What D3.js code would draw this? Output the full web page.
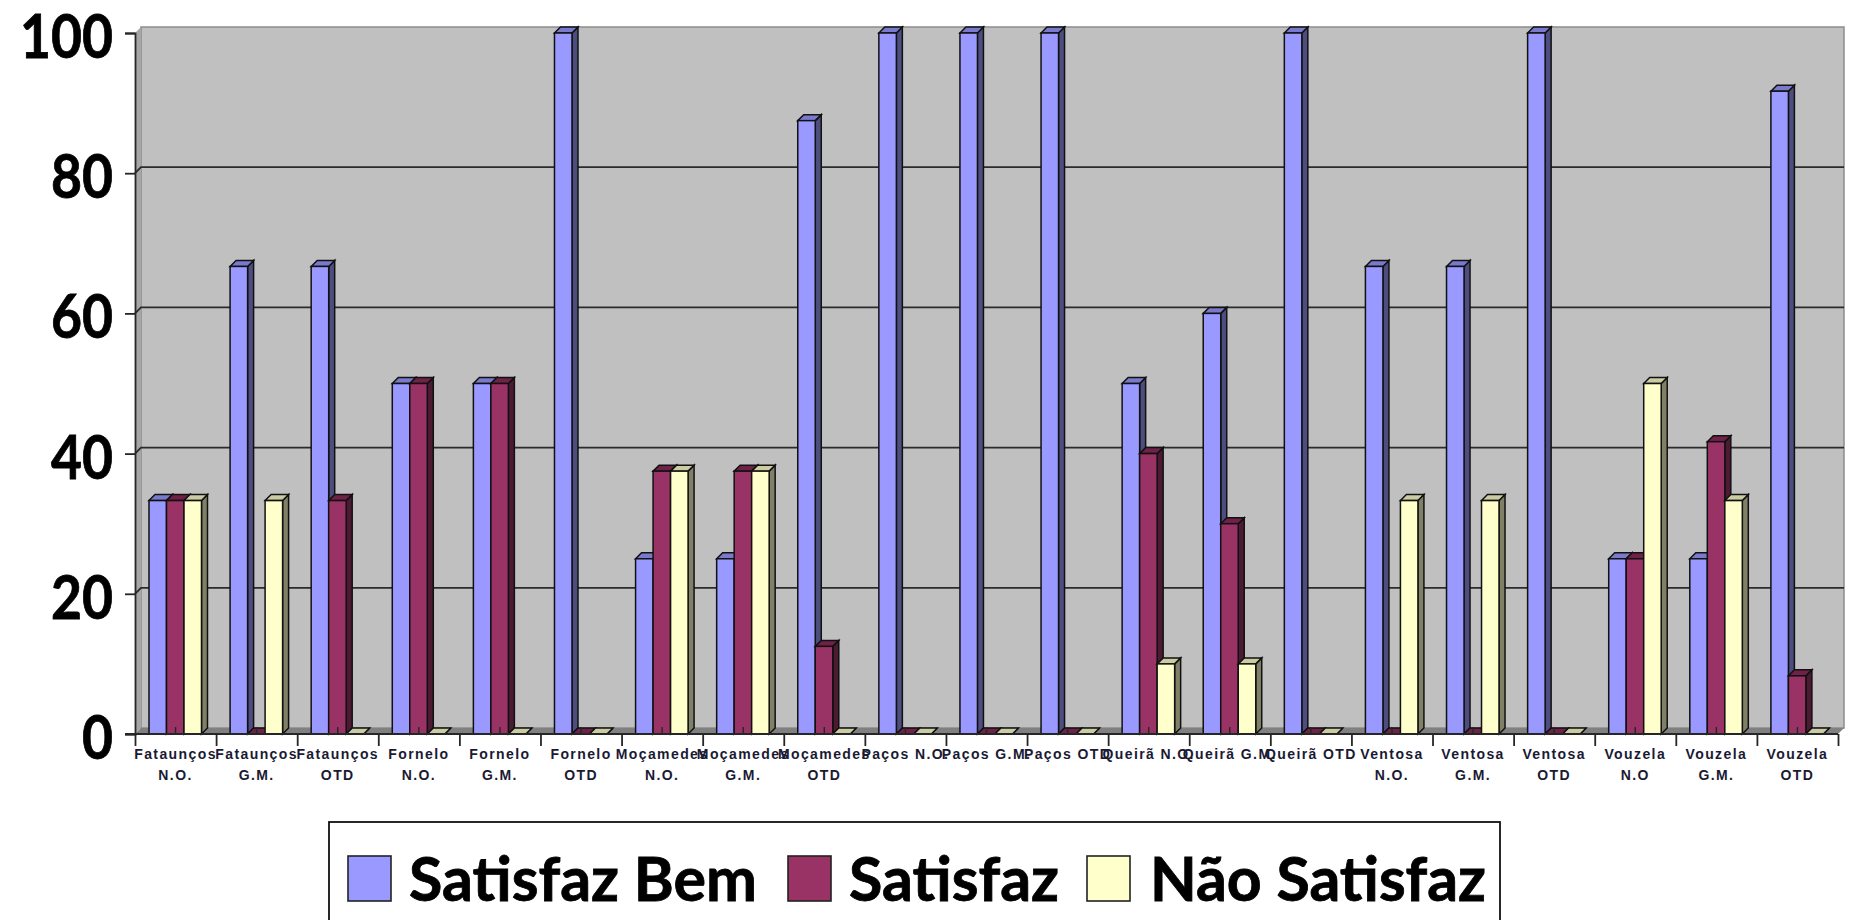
<!DOCTYPE html>
<html lang="en">
<head>
<meta charset="UTF-8">
<title>Satisfaz</title>
<style>
*{margin:0;padding:0;}
body{background:#fff;overflow:hidden;}
</style>
</head>
<body>
<div id="container"></div>
<script src="https://d3js.org/d3.v7.min.js"></script>
<script>
var categories = [
  "Fataunços\nN.O.", "Fataunços\nG.M.", "Fataunços\nOTD",
  "Fornelo\nN.O.", "Fornelo\nG.M.", "Fornelo\nOTD",
  "Moçamedes\nN.O.", "Moçamedes\nG.M.", "Moçamedes\nOTD",
  "Paços N.O.", "Paços G.M.", "Paços OTD",
  "Queirã N.O.", "Queirã G.M.", "Queirã OTD",
  "Ventosa\nN.O.", "Ventosa\nG.M.", "Ventosa\nOTD",
  "Vouzela\nN.O", "Vouzela\nG.M.", "Vouzela\nOTD"
]
var seriesNames = ["Satisfaz Bem", "Satisfaz", "Não Satisfaz"]
var satisfazBem = [33.3,66.7,66.7,50,50,100,25,25,87.5,100,100,100,50,60,100,66.7,66.7,100,25,25,91.7]
var satisfaz = [33.3,0,33.3,50,50,0,37.5,37.5,12.5,0,0,0,40,30,0,0,0,0,25,41.7,8.3]
var naoSatisfaz = [33.3,33.3,0,0,0,0,37.5,37.5,0,0,0,0,10,10,0,33.3,33.3,0,50,33.3,0]
var yTicks = [0,20,40,60,80,100]

var seriesValues = [satisfazBem, satisfaz, naoSatisfaz]
var front = ["#9999ff", "#993366", "#ffffcc"]
var side = ["#4d4d80", "#4d1a33", "#808066"]
var top3d = ["#7a7acc", "#6f2148", "#cccca3"]

var W = 1855, H = 920
var x0 = 135, x1 = 1838, y0 = 734, y100 = 33
var dx = 6, dy = 6

var svg = d3.select('#container').append('svg').attr('width', W).attr('height', H)
  .style('display', 'block')

var x = d3.scaleBand().domain(d3.range(categories.length)).range([x0, x1])
var xEdge = d3.scaleLinear().domain([0, categories.length]).range([x0, x1])
var y = d3.scaleLinear().domain([0, 100]).range([y0, y100])
var barW = 17.5
var barOffset = 14

// back wall, side wall and floor
svg.append('rect').attr('x', x0 + dx).attr('y', y(100) - dy)
  .attr('width', x1 - x0).attr('height', y0 - y(100))
  .attr('fill', '#c0c0c0').attr('stroke', '#8c8c8c').attr('stroke-width', 1.5)
svg.append('polygon')
  .attr('points', [[x0, y(100)], [x0 + dx, y(100) - dy], [x0 + dx, y0 - dy], [x0, y0]].join(' '))
  .attr('fill', '#a6a6a6')
svg.append('polygon')
  .attr('points', [[x0, y0], [x0 + dx, y0 - dy], [x1 + dx, y0 - dy], [x1, y0]].join(' '))
  .attr('fill', '#808080')

// gridlines
svg.selectAll('path.grid').data(yTicks.filter(function (d) {return d > 0 && d < 100})).enter()
  .append('path').attr('class', 'grid')
  .attr('d', function (d) {return `M${x0},${y(d)}L${x0 + dx},${y(d) - dy}L${x1 + dx},${y(d) - dy}`})
  .attr('fill', 'none').attr('stroke', '#2b2b2b').attr('stroke-width', 1.8)

// axes
var axisY = svg.append('g').attr('transform', `translate(${x0},0)`)
  .call(d3.axisLeft(y).tickValues(yTicks).tickSize(10).tickPadding(12))
axisY.selectAll('path,line').attr('stroke', '#262626').attr('stroke-width', 1.8)
axisY.selectAll('text').attr('font-family', 'Lato').attr('font-weight', 700)
  .attr('font-size', 62).attr('fill', '#000').attr('stroke', '#000').attr('stroke-width', 0.8)
  .attr('dy', 24.5)
  .attr('lengthAdjust', 'spacingAndGlyphs')
  .attr('textLength', function (d) {return String(d).length * 31})

// bars
var bars = svg.selectAll('g.cat').data(categories).enter().append('g').attr('class', 'cat')
  .attr('transform', function (d, i) {return `translate(${x(i) + barOffset},0)`})

seriesNames.forEach(function (name, s) {
  var g = bars.append('g')
  var bx = s * barW
  g.append('polygon')
    .attr('points', function (d, i) {
      var yy = y(seriesValues[s][i])
      return [[bx + barW, yy], [bx + barW + dx, yy - dy], [bx + barW + dx, y0 - dy], [bx + barW, y0]].join(' ')
    })
    .attr('fill', side[s]).attr('stroke', '#111').attr('stroke-width', 1.5)
  g.append('polygon')
    .attr('points', function (d, i) {
      var yy = y(seriesValues[s][i])
      return [[bx, yy], [bx + dx, yy - dy], [bx + barW + dx, yy - dy], [bx + barW, yy]].join(' ')
    })
    .attr('fill', top3d[s]).attr('stroke', '#111').attr('stroke-width', 1.5)
  g.append('rect')
    .attr('x', bx)
    .attr('y', function (d, i) {return y(seriesValues[s][i])})
    .attr('width', barW)
    .attr('height', function (d, i) {return y0 - y(seriesValues[s][i])})
    .attr('fill', front[s]).attr('stroke', '#111').attr('stroke-width', 1.5)
})

// x axis, long ticks sit on the category edges, short inner ones on the centres
var axisX = svg.append('g').attr('transform', `translate(0,${y0})`)
  .call(d3.axisBottom(xEdge).tickValues(d3.range(categories.length + 1)).tickSize(12).tickFormat(''))
axisX.selectAll('path,line').attr('stroke', '#262626').attr('stroke-width', 1.8)
axisX.select('.domain').attr('d', `M${x0 - 10},0H${x1}`)

var innerX = svg.append('g').attr('transform', `translate(0,${y0})`)
  .call(d3.axisBottom(x).tickSize(-7).tickFormat(''))
innerX.select('.domain').remove()
innerX.selectAll('line').attr('stroke', '#262626').attr('stroke-width', 1.4)

var labels = svg.selectAll('text.cat').data(categories).enter().append('text')
  .attr('class', 'cat')
  .attr('text-anchor', 'middle')
  .attr('font-family', 'Liberation Sans').attr('font-weight', 700)
  .attr('font-size', 14).attr('letter-spacing', 1.4).attr('fill', '#1a1a33')
labels.selectAll('tspan').data(function (d, i) {
    return d.split('\n').map(function (t) {return {t: t, i: i}})
  }).enter().append('tspan')
  .attr('x', function (d) {return x(d.i) + x.bandwidth() / 2})
  .attr('y', function (d, j) {return 759 + j * 21})
  .text(function (d) {return d.t})

// legend
svg.append('rect').attr('x', 329).attr('y', 822).attr('width', 1171).attr('height', 110)
  .attr('fill', '#fff').attr('stroke', '#111').attr('stroke-width', 1.8)
var legendX = [348, 788, 1087]
var legendTextX = [409, 849, 1150]
var legendTextW = [348, 210, 336]
var legend = svg.selectAll('g.legend').data(seriesNames).enter().append('g').attr('class', 'legend')
legend.append('rect')
  .attr('x', function (d, i) {return legendX[i]}).attr('y', 856)
  .attr('width', 43).attr('height', 45)
  .attr('fill', function (d, i) {return front[i]}).attr('stroke', '#222').attr('stroke-width', 1.6)
legend.append('text')
  .attr('x', function (d, i) {return legendTextX[i]}).attr('y', 901)
  .attr('font-family', 'Lato').attr('font-weight', 700).attr('font-size', 61)
  .attr('fill', '#000').attr('stroke', '#000').attr('stroke-width', 0.8)
  .attr('lengthAdjust', 'spacingAndGlyphs')
  .attr('textLength', function (d, i) {return legendTextW[i]})
  .text(function (d) {return d})
</script>
</body>
</html>
